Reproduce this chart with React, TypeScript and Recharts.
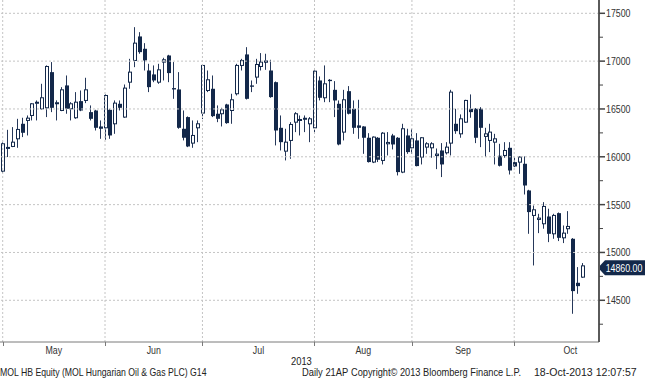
import React from 'react';
import { ComposedChart, Bar, XAxis, YAxis, ReferenceLine } from 'recharts';

// daily OHLC, MOL HB Equity, May - mid Oct 2013
const opens = [
  15850, 16090, 16108, 16188, 16345, 16380, 16432, 16560, 16502, 16512,
  16885, 16555, 16484, 16746, 16502, 16408, 16582, 16589, 16467, 16484,
  16317, 16303, 16491, 16345, 16554, 16415, 16780, 17007, 17258, 17129,
  16902, 16861, 16780, 16990, 17059, 16718, 16704, 16293, 16415, 16143,
  16303, 16457, 16693, 16711, 16450, 16450, 16547, 16484, 16659, 16955,
  17070, 16746, 16833, 16944, 17007, 16902, 16780, 16303, 16059, 16171,
  16362, 16380, 16408, 16345, 16303, 16798, 16617, 16805, 16700, 16554,
  16258, 16686, 16502, 16328, 16317, 16199, 15945, 16199, 15962, 16136,
  16223, 16199, 15840, 16223, 16094, 16171, 15997, 16101, 16094, 16014,
  16066, 16042, 16143, 16345, 16240, 16362, 16502, 16502, 16502, 16213,
  16171, 16153, 16011, 16014, 16094, 15944, 15944, 15927, 15648, 15387,
  15345, 15300, 15376, 15195, 15411, 15153, 15248, 15143, 14683, 14742,
];
const highs = [
  16150, 16282, 16310, 16397, 16408, 16432, 16561, 16589, 16763, 16955,
  16990, 16590, 16728, 16850, 16571, 16676, 16693, 16826, 16537, 16491,
  16380, 16652, 16502, 16589, 16589, 16756, 17024, 17355, 17303, 17188,
  16972, 16955, 16972, 17035, 17066, 16990, 16885, 16484, 16422, 16380,
  16380, 16962, 16902, 16850, 16537, 16512, 16554, 16659, 16972, 17024,
  17146, 16798, 17024, 17084, 17077, 17014, 16787, 16432, 16293, 16362,
  16467, 16432, 16432, 16415, 16902, 16840, 16955, 16812, 16791, 16589,
  16700, 16739, 16589, 16596, 16320, 16247, 16213, 16206, 16258, 16258,
  16240, 16206, 16345, 16293, 16293, 16247, 16206, 16153, 16153, 16087,
  16143, 16153, 16700, 16502, 16443, 16596, 16652, 16509, 16519, 16303,
  16345, 16240, 16136, 16153, 16153, 15997, 16004, 16004, 15655, 15491,
  15404, 15526, 15457, 15404, 15418, 15282, 15432, 15150, 14847, 14889,
];
const lows = [
  15830, 15997, 16101, 16094, 16206, 16223, 16380, 16380, 16491, 16415,
  16467, 16380, 16477, 16450, 16380, 16397, 16477, 16561, 16380, 16275,
  16188, 16178, 16188, 16240, 16484, 16408, 16711, 16937, 17077, 16902,
  16676, 16780, 16763, 16798, 16780, 16606, 16293, 16171, 16101, 16094,
  16153, 16394, 16676, 16415, 16362, 16317, 16345, 16345, 16641, 16902,
  16599, 16676, 16763, 16902, 16909, 16617, 16119, 16066, 15962, 15979,
  16258, 16223, 16258, 16153, 16247, 16589, 16571, 16571, 16415, 16120,
  16171, 16443, 16240, 16188, 16031, 15940, 15934, 15945, 15920, 16014,
  16077, 15805, 15829, 16031, 16031, 15900, 15920, 16031, 15990, 15871,
  15788, 16024, 16014, 16240, 16199, 16355, 16408, 16143, 16101, 15997,
  16049, 15920, 15899, 15990, 15815, 15892, 15822, 15606, 15195, 14864,
  15202, 15248, 15108, 15143, 15119, 15098, 15195, 14359, 14568, 14735,
];
const closes = [
  16136, 16098, 16153, 16286, 16251, 16404, 16554, 16570, 16617, 16944,
  16512, 16565, 16700, 16502, 16554, 16571, 16484, 16700, 16397, 16303,
  16293, 16641, 16223, 16561, 16512, 16718, 16885, 17188, 17094, 17007,
  16728, 16798, 16909, 17014, 16875, 16704, 16303, 16199, 16108, 16223,
  16345, 16955, 16805, 16425, 16397, 16491, 16352, 16596, 16955, 17007,
  16606, 16732, 16965, 16990, 16983, 16624, 16275, 16153, 16153, 16338,
  16450, 16390, 16387, 16397, 16895, 16617, 16763, 16791, 16589, 16129,
  16596, 16450, 16303, 16303, 16199, 15945, 16206, 15969, 16247, 16150,
  16129, 15840, 16293, 16049, 16188, 15903, 16199, 16136, 16136, 16028,
  15920, 16101, 16676, 16268, 16397, 16589, 16467, 16199, 16303, 16240,
  16258, 16188, 15906, 16066, 15857, 15899, 15997, 15700, 15422, 15446,
  15359, 15481, 15195, 15387, 15153, 15202, 15272, 14596, 14648, 14860,
];

const monthNames = ['May', 'Jun', 'Jul', 'Aug', 'Sep', 'Oct'];
const monthStarts = [0, 21, 41, 64, 84, 105];
const monthLabelAt = [10.5, 31, 52.5, 74, 94.5, 116.5];
const gridLevels = [14500, 15000, 15500, 16000, 16500, 17000, 17500];
const priceTicks = [
  14250, 14500, 14750, 15000, 15250, 15500, 15750, 16000,
  16250, 16500, 16750, 17000, 17250, 17500,
];

const NAVY = '#13284a';
const FONT = '"Liberation Sans", Arial, sans-serif';
const SQUEEZE = 0.8; // the Bloomberg font is narrower than anything installed

const data = opens.map((o, i) => ({
  i,
  open: o,
  high: highs[i],
  low: lows[i],
  close: closes[i],
  range: [lows[i], highs[i]],
}));
const lastClose = closes[closes.length - 1];

// svg text squeezed horizontally around its anchor
const SText = ({ x, y, anchor = 'start', fill = '#333', children }: any) => (
  <text
    transform={`translate(${x},${y}) scale(${SQUEEZE},1)`}
    textAnchor={anchor}
    fontSize={11}
    fontFamily={FONT}
    fill={fill}
  >
    {children}
  </text>
);

const Candle = (props: any) => {
  const { x, y, width, height, payload } = props;
  if (!payload || height == null) return null;
  const { open, close, high, low } = payload;
  const top = Math.min(y, y + height);
  const h = Math.abs(height);
  const k = high > low ? h / (high - low) : 0;
  const cx = Math.round(x + width / 2);
  const yO = top + (high - open) * k;
  const yC = top + (high - close) * k;
  const bTop = Math.min(yO, yC);
  const bH = Math.max(Math.abs(yC - yO), 1);
  return (
    <g>
      <line x1={cx + 0.5} x2={cx + 0.5} y1={top} y2={top + h} stroke="#26385a" strokeWidth={1} />
      {close >= open ? (
        <rect x={cx - 0.5} y={bTop} width={3} height={bH} fill="#ffffff" stroke={NAVY} strokeWidth={1} />
      ) : (
        <rect x={cx - 1} y={bTop} width={4} height={bH} fill={NAVY} />
      )}
    </g>
  );
};

const MonthTick = (props: any) => {
  const { x, y, payload } = props;
  const v = payload.value;
  if (monthStarts.includes(v)) {
    const px = Math.round(x) + 0.5;
    return <line x1={px} x2={px} y1={y} y2={y + 4} stroke="#7a7a7a" />;
  }
  const idx = monthLabelAt.indexOf(v);
  return (
    <SText x={x} y={y + 12} anchor="middle">
      {monthNames[idx]}
    </SText>
  );
};

const PriceTick = (props: any) => {
  const { x, y, payload } = props;
  const v = payload.value;
  const major = v % 500 === 0;
  return (
    <g>
      <line x1={x} x2={x + (major ? 6 : 4)} y1={y} y2={y} stroke="#444" strokeWidth={major ? 1.5 : 1} />
      {major && (
        <SText x={x + 7} y={y + 4}>
          {v}
        </SText>
      )}
    </g>
  );
};

const PriceTag = (props: any) => {
  const vb = props.viewBox || {};
  const right = (vb.x || 0) + (vb.width || 0);
  const cy = (vb.y || 0) + 2;
  const d = `M${right - 1},${cy} L${right + 6},${cy - 7.5} L${right + 46},${cy - 7.5} L${right + 46},${cy + 7.5} L${right + 6},${cy + 7.5} Z`;
  return (
    <g>
      <path d={d} fill={NAVY} />
      <SText x={right + 25} y={cy + 4} anchor="middle" fill="#ffffff">
        {lastClose.toFixed(2)}
      </SText>
    </g>
  );
};

const foot = (left: number, squeeze: number, top = 366): React.CSSProperties => ({
  position: 'absolute',
  top,
  left,
  fontSize: 11,
  lineHeight: '12px',
  fontFamily: FONT,
  color: '#222',
  whiteSpace: 'nowrap',
  transform: `scaleX(${squeeze})`,
  transformOrigin: 'left top',
});

export default function App() {
  return (
    <div style={{ position: 'absolute', left: 0, top: 0, width: 645, height: 380, background: '#fff' }}>
      <ComposedChart width={645} height={380} data={data} margin={{ top: 0, right: 0, bottom: 0, left: 0 }}>
        <XAxis
          dataKey="i"
          type="number"
          domain={[-0.554, 122.4]}
          allowDataOverflow
          ticks={[...monthStarts, ...monthLabelAt]}
          interval={0}
          tick={<MonthTick />}
          tickLine={false}
          tickSize={0}
          tickMargin={0}
          axisLine={{ stroke: '#7a7a7a' }}
          height={38}
        />
        <YAxis
          orientation="right"
          type="number"
          domain={[14064, 17639]}
          allowDataOverflow
          ticks={priceTicks}
          interval={0}
          tick={<PriceTick />}
          tickLine={false}
          tickSize={0}
          tickMargin={0}
          axisLine={{ stroke: '#5a5a5a', strokeWidth: 2 }}
          width={46}
        />
        {gridLevels.map((g) => (
          <ReferenceLine key={'h' + g} y={g} stroke="#c4c4c4" strokeDasharray="2 2" />
        ))}
        {monthStarts.map((s) => (
          <ReferenceLine key={'v' + s} x={s} stroke="#c4c4c4" strokeDasharray="2 2" />
        ))}
        <Bar dataKey="range" shape={<Candle />} barSize={4} isAnimationActive={false} />
        <ReferenceLine y={lastClose} stroke="none" ifOverflow="visible" label={<PriceTag />} />
      </ComposedChart>
      <div style={foot(291, 0.85, 355)}>2013</div>
      <div style={foot(0, 0.79)}>MOL HB Equity (MOL Hungarian Oil &amp; Gas PLC) G14</div>
      <div style={foot(302, 0.85)}>Daily 21AP</div>
      <div style={foot(351, 0.84)}>Copyright© 2013 Bloomberg Finance L.P.</div>
      <div style={foot(534, 0.96)}>18-Oct-2013 12:07:57</div>
    </div>
  );
}
